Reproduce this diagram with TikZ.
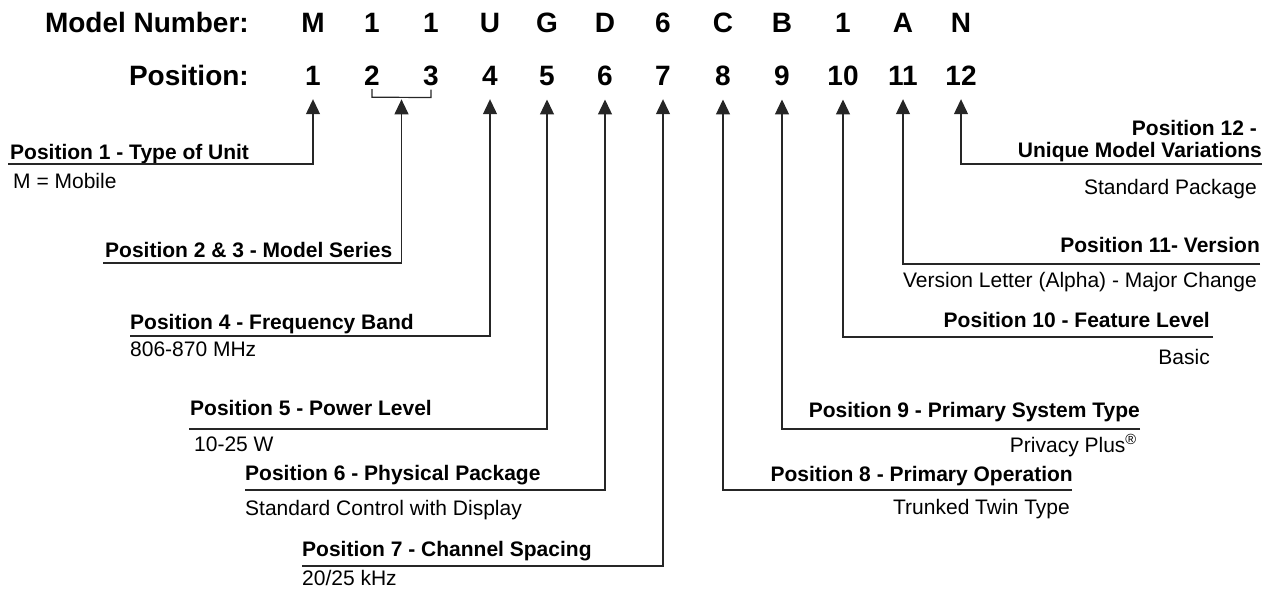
\documentclass[tikz,border=0pt]{standalone}
\usepackage{fontspec}
\setmainfont{Liberation Sans}
\usetikzlibrary{arrows.meta,calc}

\tikzset{
  code/.style={font=\fontsize{28}{31}\selectfont\bfseries, inner sep=0pt, anchor=base},
  title/.style={font=\fontsize{21}{24}\selectfont\bfseries, inner sep=0pt},
  value/.style={font=\fontsize{21}{24}\selectfont, inner sep=0pt},
  link/.style={draw=black!85, line width=1.2pt, -{Triangle[length=15pt,width=14pt]}},
  bracket/.style={draw=black!85, line width=1.2pt}
}

\begin{document}
\begin{tikzpicture}[x=1pt,y=-1pt]
\useasboundingbox (0,0) rectangle (1273,590);

% header rows
\node[code, anchor=base east] (model) at (249,32) {Model Number:};
\node[code, anchor=base east] (pos) at (249,85) {Position:};
\foreach \x/\ch/\n in {313/M/1, 372/1/2, 431/1/3, 490/U/4, 547/G/5, 605/D/6,
                       663/6/7, 723/C/8, 782/B/9, 843/1/10, 903/A/11, 961/N/12}{
  \node[code] (m\n) at (\x,32) {\ch};
  \node[code] (p\n) at (\x,85) {\n};
  \coordinate (a\n) at ([yshift=-14pt]p\n.south);
}

% positions 2 and 3 share one arrow
\draw[bracket] ([yshift=-4pt]p2.south) -- ([yshift=-12pt]p2.south)
  -- ([yshift=-12pt]p3.south) -- ([yshift=-4pt]p3.south);
\coordinate (a23) at ($(p2.south)!0.5!(p3.south)+(0,14)$);

% left side
\coordinate (u1) at (8,164);
\node[title, anchor=base west] (t1) at (10,159) {Position 1 - Type of Unit};
\node[value, anchor=base west] (v1) at (13,188) {M = Mobile};

\coordinate (u23) at (103,263);
\node[title, anchor=base west] (t23) at (105,257) {Position 2 \& 3 - Model Series};

\coordinate (u4) at (130,336);
\node[title, anchor=base west] (t4) at (130,329) {Position 4 - Frequency Band};
\node[value, anchor=base west] (v4) at (130,356) {806-870 MHz};

\coordinate (u5) at (189,429);
\node[title, anchor=base west] (t5) at (190,415) {Position 5 - Power Level};
\node[value, anchor=base west] (v5) at (194,451) {10-25 W};

\coordinate (u6) at (245,490);
\node[title, anchor=base west] (t6) at (245,480) {Position 6 - Physical Package};
\node[value, anchor=base west] (v6) at (245,515) {Standard Control with Display};

\coordinate (u7) at (302,566);
\node[title, anchor=base west] (t7) at (302,556) {Position 7 - Channel Spacing};
\node[value, anchor=base west] (v7) at (302,585) {20/25 kHz};

% right side
\coordinate (u12) at (1262,164);
\node[title, anchor=base east] (t12a) at (1257,135) {Position 12 -};
\node[title, anchor=base east] (t12) at (1262,157) {Unique Model Variations};
\node[value, anchor=base east] (v12) at (1257,194) {Standard Package};

\coordinate (u11) at (1260,264);
\node[title, anchor=base east] (t11) at (1260,252) {Position 11- Version};
\node[value, anchor=base east] (v11) at (1257,287) {Version Letter (Alpha) - Major Change};

\coordinate (u10) at (1213,337);
\node[title, anchor=base east] (t10) at (1210,327) {Position 10 - Feature Level};
\node[value, anchor=base east] (v10) at (1210,364) {Basic};

\coordinate (u9) at (1140,429);
\node[title, anchor=base east] (t9) at (1140,417) {Position 9 - Primary System Type};
\node[value, anchor=base east] (v9) at (1137,452) {Privacy Plus\textsuperscript{®}};

\coordinate (u8) at (1072,490);
\node[title, anchor=base east] (t8) at (1073,481) {Position 8 - Primary Operation};
\node[value, anchor=base east] (v8) at (1070,514) {Trunked Twin Type};

% connectors
\draw[link] (u1) -| (a1);
\draw[link] (u23) -| (a23);
\foreach \n in {4,5,6,7,8,9,10,11,12}
  \draw[link] (u\n) -| (a\n);

\end{tikzpicture}
\end{document}
